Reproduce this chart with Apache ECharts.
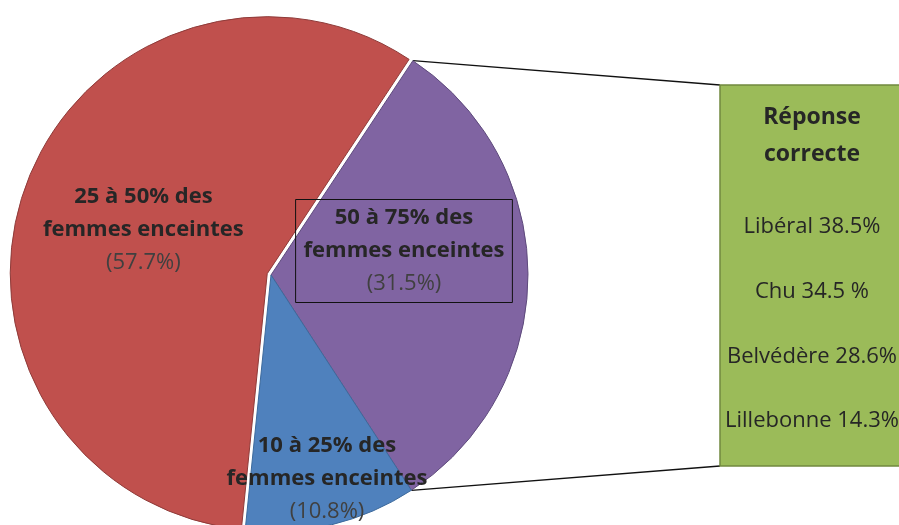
<!DOCTYPE html>
<html>
<head>
<meta charset="utf-8">
<script src="https://cdn.jsdelivr.net/npm/echarts@6/dist/echarts.min.js"></script>
<style>
  html, body { margin: 0; padding: 0; background: #fff; }
  #main { width: 899px; height: 525px; }
</style>
</head>
<body>
<div id="main"></div>
<script>
var myChart = echarts.init(document.getElementById('main'));

// tranches (ordre de dessin : violet, bleu, rouge)
var categories = ['50 à 75% des femmes enceintes', '10 à 25% des femmes enceintes', '25 à 50% des femmes enceintes'];
var values = [31.5, 10.8, 57.7];
var colors = ['#8064a2', '#4f81bd', '#c0504d'];
var borders = ['#5e4a7c', '#3d6a9c', '#8e3b39'];

// encadré "Réponse correcte"
var boxTitle = 'Réponse\ncorrecte';
var subNames = ['Libéral', 'Chu', 'Belvédère', 'Lillebonne'];
var subPct = ['38.5%', '34.5 %', '28.6%', '14.3%'];

var cx = 271, cy = 275, R = 257;
var startAngle = 56.5;

// label positions (centre of each label block)
var labelPos = [[404, 251], [327, 479], [137, 230]];

// connector end points on the pie: start and end of the violet slice
var total = 0;
for (var i = 0; i < values.length; i++) total += values[i];
function edgePoint(deg) {
  var a = deg * Math.PI / 180;
  return [cx + R * Math.cos(a), cy - R * Math.sin(a)];
}
var pTop = edgePoint(startAngle);
var pBot = edgePoint(startAngle - values[0] / total * 360);

var boxX = 720, boxY = 85, boxW = 186, boxH = 381;
var boxCx = boxX + boxW / 2 - 1;

var data = [];
for (var i = 0; i < values.length; i++) {
  var item = {
    name: categories[i],
    value: values[i],
    itemStyle: { color: colors[i], borderColor: borders[i], borderWidth: 1 }
  };
  if (i === 0) {
    item.label = { borderColor: '#111', borderWidth: 1, padding: [2, 8, 2, 8] };
  }
  if (i === 2) {
    item.selected = true;
    item.select = { itemStyle: { color: colors[i], borderColor: borders[i], borderWidth: 1 } };
  }
  data.push(item);
}

var graphics = [
  { type: 'line', shape: { x1: pTop[0], y1: pTop[1], x2: boxX, y2: boxY }, style: { stroke: '#111', lineWidth: 1.3 }, z: 1 },
  { type: 'line', shape: { x1: pBot[0], y1: pBot[1], x2: boxX, y2: boxY + boxH }, style: { stroke: '#111', lineWidth: 1.3 }, z: 1 },
  { type: 'rect', shape: { x: boxX, y: boxY, width: boxW, height: boxH }, style: { fill: '#9bbb59', stroke: '#71893f', lineWidth: 1.5 }, z: 2 },
  { type: 'text', x: boxCx, y: 136, z: 3,
    style: { text: boxTitle, font: 'bold 23px "Open Sans"', fill: '#262626', align: 'center', verticalAlign: 'middle', lineHeight: 37 } }
];
var subY = [227, 292, 357, 421];
for (var j = 0; j < subNames.length; j++) {
  graphics.push({ type: 'text', x: boxCx, y: subY[j], z: 3,
    style: { text: subNames[j] + ' ' + subPct[j], font: '22px "Open Sans"', fill: '#262626', align: 'center', verticalAlign: 'middle' } });
}

var option = {
  animation: false,
  graphic: graphics,
  series: [{
    type: 'pie',
    center: [cx, cy],
    radius: R,
    startAngle: startAngle,
    clockwise: true,
    selectedMode: 'single',
    selectedOffset: 4,
    emphasis: { disabled: true },
    z: 4,
    label: {
      position: 'inside',
      color: '#262626',
      align: 'center',
      verticalAlign: 'middle',
      formatter: function (p) {
        var txt = p.name.replace(' des ', ' des\n').split('\n');
        return '{b|' + txt[0] + '}\n{b|' + txt[1] + '}\n{p|(' + p.value.toFixed(1) + '%)}';
      },
      rich: {
        b: { fontFamily: 'Open Sans', fontWeight: 'bold', fontSize: 22, lineHeight: 33, color: '#262626' },
        p: { fontFamily: 'Open Sans', fontSize: 22, lineHeight: 33, color: '#404040' }
      }
    },
    labelLine: { show: false },
    labelLayout: function (params) {
      return { x: labelPos[params.dataIndex][0], y: labelPos[params.dataIndex][1] };
    },
    data: data
  }]
};
myChart.setOption(option);
</script>
</body>
</html>
